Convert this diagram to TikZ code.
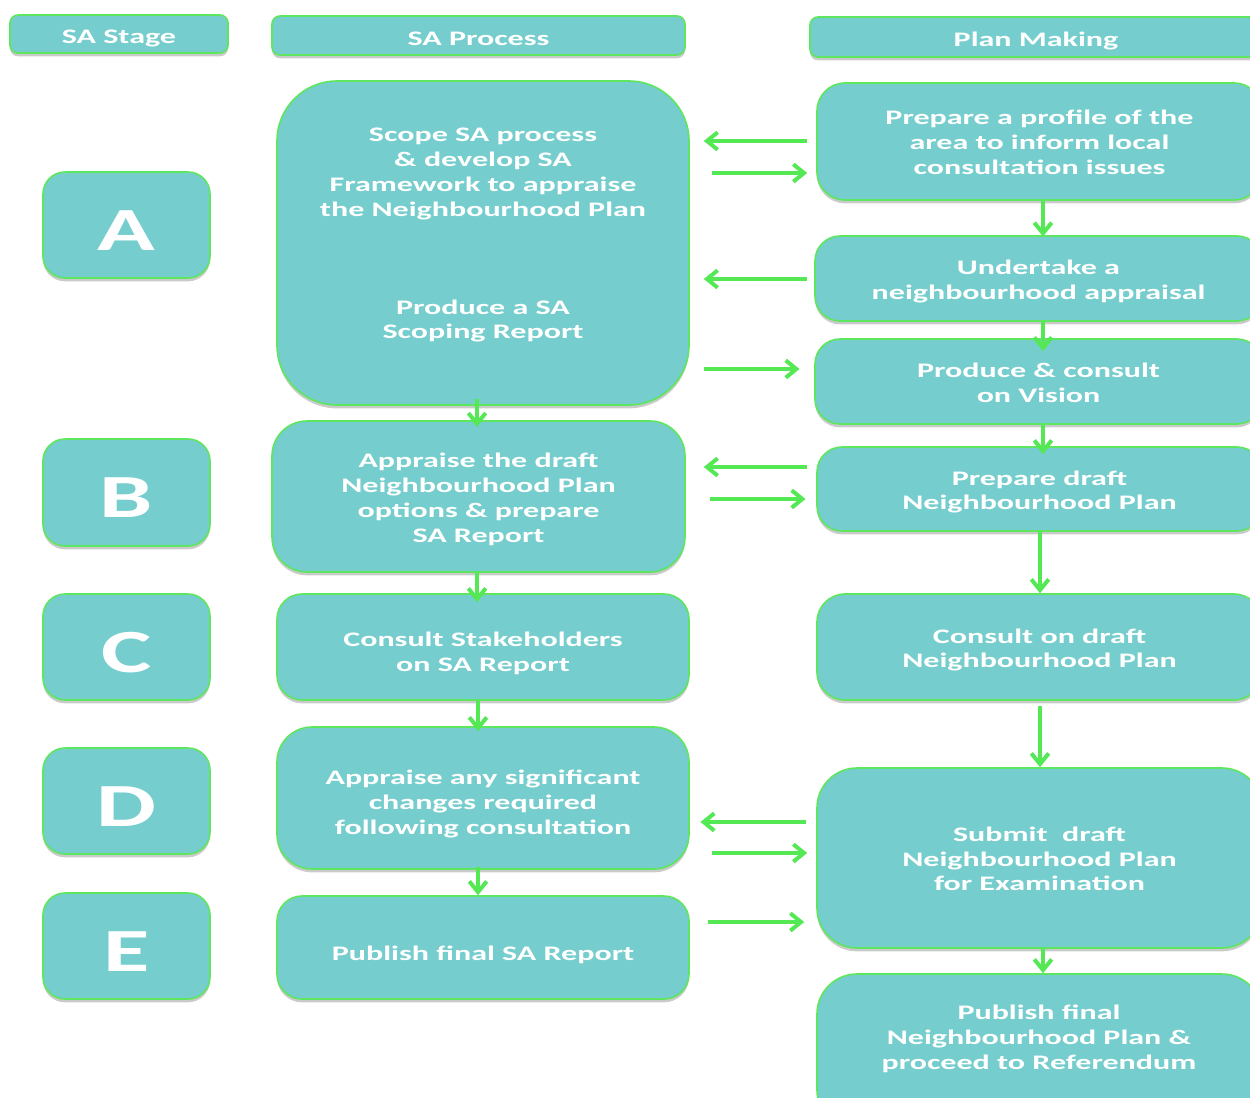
\documentclass[tikz,border=0pt]{standalone}
\usepackage{fontspec}
\newfontfamily\bodyfont{Carlito}[FakeStretch=1.55]
\usetikzlibrary{shadows,arrows.meta}
\definecolor{boxfill}{HTML}{76CDCD}
\definecolor{boxline}{HTML}{5EE65E}
\definecolor{arrgreen}{HTML}{55E855}
\tikzset{
  box/.style={draw=boxline, line width=1.2pt, fill=boxfill, inner sep=0pt,
    drop shadow={opacity=0.35, shadow xshift=0pt, shadow yshift=-2.5pt, fill=black!60}},
  lbl/.style={text=white, align=center, inner sep=0pt, font=\bodyfont\bfseries\fontsize{15.5}{18.6}\selectfont},
  letterlbl/.style={lbl, font=\bodyfont\bfseries\fontsize{46}{50}\selectfont},
  arr/.style={draw=arrgreen, line width=3pt, -{Straight Barb[length=8pt,width=13pt,line width=3pt]}}
}
% \mkbox[label style]{x1}{y1}{x2}{y2}{text}{radius}{name}{text shift px}
\newcommand{\mkbox}[9][lbl]{%
  \node[box, rounded corners={#7*0.75pt}, minimum width={(#4-#2)*0.75pt}, minimum height={(#5-#3)*0.75pt}]
    (#8) at ({(#2+#4)/2},{(#3+#5)/2}) {};
  \node[#1] (#8t) at ([yshift={-#9*0.75pt}]#8.center) {#6};}
\begin{document}
\begin{tikzpicture}[x=0.75pt,y=-0.75pt]
\useasboundingbox (0,0) rectangle (1250,1097);
\clip (0,0) rectangle (1250,1097);
% headers
\mkbox{10}{15}{228}{53}{SA Stage}{8}{hstage}{4}
\mkbox{272}{16}{685}{55}{SA Process}{8}{hproc}{3}
\mkbox{810}{17}{1262}{57}{Plan Making}{8}{hplan}{4}
% stage letters
\mkbox[letterlbl]{43}{172}{210}{278}{A}{22}{sA}{6}
\mkbox[letterlbl]{43}{439}{210}{546}{B}{22}{sB}{5}
\mkbox[letterlbl]{43}{594}{210}{700}{C}{22}{sC}{6}
\mkbox[letterlbl]{43}{748}{210}{854}{D}{22}{sD}{6}
\mkbox[letterlbl]{43}{893}{210}{999}{E}{22}{sE}{6}
% SA process
\node[box, rounded corners={60*0.75pt}, minimum width={412*0.75pt}, minimum height={324*0.75pt}] (scope) at (483,243) {};
\node[lbl] (scopeA) at (483,174) {Scope SA process\\\& develop SA\\Framework to appraise\\the Neighbourhood Plan};
\node[lbl] (scopeB) at (483,321) {Produce a SA\\Scoping Report};
\mkbox{272}{421}{685}{572}{Appraise the draft\\Neighbourhood Plan\\options \& prepare\\SA Report}{35}{appraise}{3}
\mkbox{277}{594}{689}{700}{Consult Stakeholders\\on SA Report}{25}{consult}{6}
\mkbox{277}{727}{689}{869}{Appraise any significant\\changes required\\following consultation}{35}{sig}{6}
\mkbox{277}{896}{689}{999}{Publish final SA Report}{25}{pubsa}{7}
% plan making
\mkbox{817}{83}{1262}{200}{Prepare a profile of the\\area to inform local\\consultation issues}{28}{profile}{1}
\mkbox{815}{236}{1262}{321}{Undertake a\\neighbourhood appraisal}{25}{undertake}{3}
\mkbox{815}{339}{1262}{424}{Produce \& consult\\on Vision}{25}{vision}{1}
\mkbox{817}{447}{1262}{531}{Prepare draft\\Neighbourhood Plan}{25}{pdraft}{3}
\mkbox{817}{594}{1262}{700}{Consult on draft\\Neighbourhood Plan}{28}{cdraft}{3}
\mkbox{817}{768}{1262}{948}{Submit~ draft\\Neighbourhood Plan\\for Examination}{40}{submit}{1}
\node[box, rounded corners={40*0.75pt}, minimum width={445*0.75pt}, minimum height={156*0.75pt}] (pubnp) at (1039.5,1052) {};
\node[lbl] (pubnpT) at (1039,1039) {Publish final\\Neighbourhood Plan \&\\proceed to Referendum};
% horizontal arrows
\draw[arr, shorten <=6.75pt, shorten >=10.5pt] (profile.west |- 0,141) -- (scope.east |- 0,141);
\draw[arr, shorten <=17pt, shorten >=6.75pt] (scope.east |- 0,173) -- (profile.west |- 0,173);
\draw[arr, shorten <=5.25pt, shorten >=10.5pt] (undertake.west |- 0,279) -- (scope.east |- 0,279);
\draw[arr, shorten <=10.5pt, shorten >=11pt] (scope.east |- 0,369) -- (vision.west |- 0,369);
\draw[arr, shorten <=6.75pt, shorten >=13.5pt] (pdraft.west |- 0,467) -- (appraise.east |- 0,467);
\draw[arr, shorten <=18pt, shorten >=8pt] (appraise.east |- 0,499) -- (pdraft.west |- 0,499);
\draw[arr, shorten <=8pt, shorten >=8pt] (submit.west |- 0,822) -- (sig.east |- 0,822);
\draw[arr, shorten <=17pt, shorten >=6.75pt] (sig.east |- 0,853) -- (submit.west |- 0,853);
\draw[arr, shorten <=14pt, shorten >=9pt] (pubsa.east |- 0,922) -- (submit.west |- 0,922);
% vertical arrows
\draw[arr, shorten <=-5pt, shorten >=-5pt] (scope.south -| 477,0) -- (appraise.north -| 477,0);
\draw[arr, shorten >=-6.75pt] (appraise.south -| 477,0) -- (consult.north -| 477,0);
\draw[arr, shorten >=-3.75pt] (consult.south -| 478,0) -- (sig.north -| 478,0);
\draw[arr, shorten <=-2pt] (sig.south -| 478,0) -- (pubsa.north -| 478,0);
\draw[arr, shorten >=-1pt] (profile.south -| 1043,0) -- (undertake.north -| 1043,0);
\draw[arr, shorten >=-9.75pt] (undertake.south -| 1043,0) -- (vision.north -| 1043,0);
\draw[arr, shorten >=-6pt] (vision.south -| 1043,0) -- (pdraft.north -| 1043,0);
\draw[arr] (pdraft.south -| 1040,0) -- (cdraft.north -| 1040,0);
\draw[arr, shorten <=3.75pt] (cdraft.south -| 1040,0) -- (submit.north -| 1040,0);
\draw[arr] (submit.south -| 1043,0) -- (pubnp.north -| 1043,0);
\end{tikzpicture}
\end{document}
